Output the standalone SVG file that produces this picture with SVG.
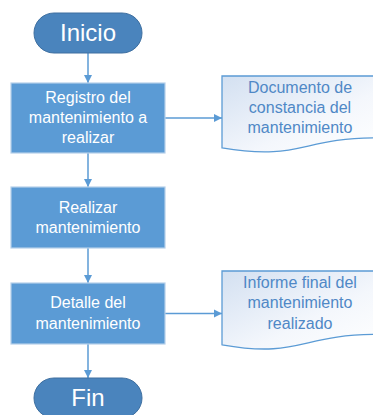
<svg xmlns="http://www.w3.org/2000/svg" width="373" height="415" viewBox="0 0 373 415">
<defs>
<style>
.term{fill:#4a84bd;stroke:#3e6fa0;stroke-width:1}
.box{fill:#5b9bd5;stroke:#b5cfe9;stroke-width:1.2}
.doc{fill:url(#dg);stroke:#5b9bd5;stroke-width:1.3}
.tt{font-family:"Liberation Sans",Arial,sans-serif;font-size:24px;fill:#ffffff;text-anchor:middle}
.bt{font-family:"Liberation Sans",Arial,sans-serif;font-size:16px;fill:#ffffff;text-anchor:middle}
.dt{font-family:"Liberation Sans",Arial,sans-serif;font-size:16px;fill:#4f88c6;text-anchor:middle}
.con{stroke:#5b9bd5;stroke-width:1.5;fill:none;marker-end:url(#ah)}
</style>
<linearGradient id="dg" x1="0" y1="0" x2="1" y2="1">
<stop offset="0" stop-color="#d3e0f1"/>
<stop offset="0.6" stop-color="#f4f7fc"/>
<stop offset="1" stop-color="#ffffff"/>
</linearGradient>
<marker id="ah" viewBox="0 0 10 10" refX="10" refY="5" markerWidth="8" markerHeight="9" markerUnits="userSpaceOnUse" orient="auto">
<path d="M0,0 L10,5 L0,10 Z" fill="#5b9bd5"/>
</marker>
</defs>
<g id="connectors">
<line class="con" x1="88" y1="53" x2="88" y2="83"/>
<line class="con" x1="88" y1="153" x2="88" y2="187"/>
<line class="con" x1="88" y1="248" x2="88" y2="283"/>
<line class="con" x1="88" y1="344" x2="88" y2="378"/>
<line class="con" x1="165" y1="118" x2="222" y2="118"/>
<line class="con" x1="165" y1="313.5" x2="222" y2="313.5"/>
</g>
<g id="inicio">
<rect class="term" x="34" y="13" width="108" height="40" rx="20" ry="20"/>
<text class="tt" x="88" y="41">Inicio</text>
</g>
<g id="registro">
<rect class="box" x="11" y="83" width="154" height="70"/>
<text class="bt" x="88" y="103">Registro del</text>
<text class="bt" x="88" y="123">mantenimiento a</text>
<text class="bt" x="88" y="143">realizar</text>
</g>
<g id="realizar">
<rect class="box" x="11" y="187" width="154" height="61"/>
<text class="bt" x="88" y="213">Realizar</text>
<text class="bt" x="88" y="233">mantenimiento</text>
</g>
<g id="detalle">
<rect class="box" x="11" y="283" width="154" height="61"/>
<text class="bt" x="88" y="308">Detalle del</text>
<text class="bt" x="88" y="329">mantenimiento</text>
</g>
<g id="fin">
<rect class="term" x="34" y="378" width="108" height="40" rx="20" ry="20"/>
<text class="tt" x="88" y="406">Fin</text>
</g>
<g id="documento">
<path class="doc" d="M222,76 H378 V137.8 C300,137.8 300,161.2 222,147.9 Z"/>
<text class="dt" x="300" y="93">Documento de</text>
<text class="dt" x="300" y="113">constancia del</text>
<text class="dt" x="300" y="133">mantenimiento</text>
</g>
<g id="informe">
<path class="doc" d="M222,271 H378 V334.4 C300,334.4 300,358.5 222,344.8 Z"/>
<text class="dt" x="300" y="288">Informe final del</text>
<text class="dt" x="300" y="308">mantenimiento</text>
<text class="dt" x="300" y="329">realizado</text>
</g>
</svg>
